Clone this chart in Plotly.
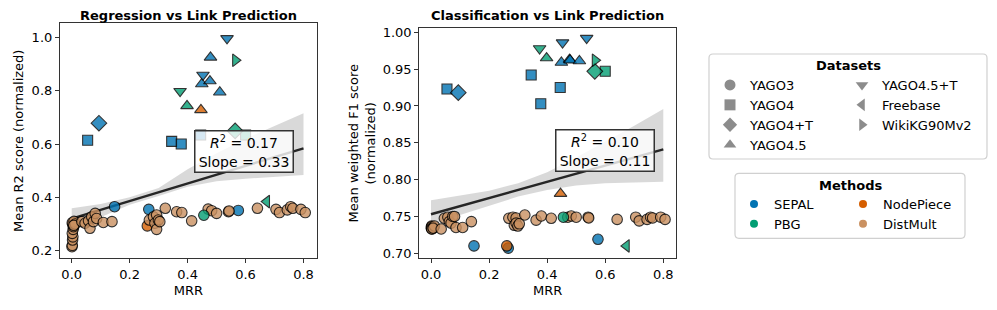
import plotly.graph_objects as go

# ---------------- data ----------------
DATASETS = ["YAGO3", "YAGO4", "YAGO4+T", "YAGO4.5", "YAGO4.5+T", "Freebase", "WikiKG90Mv2"]
METHODS = ["SEPAL", "PBG", "NodePiece", "DistMult"]

sepal_dataset = ["YAGO3", "YAGO3", "YAGO3", "YAGO4", "YAGO4", "YAGO4", "YAGO4", "YAGO4+T",
                 "YAGO4.5", "YAGO4.5", "YAGO4.5", "YAGO4.5", "YAGO4.5+T", "YAGO4.5+T"]
sepal_mrr = [0.148, 0.266, 0.575, 0.055, 0.345, 0.378, 0.445, 0.094,
             0.449, 0.477, 0.479, 0.511, 0.536, 0.453]
sepal_r2 = [0.365, 0.355, 0.351, 0.614, 0.610, 0.600, 0.634, 0.678,
            0.825, 0.836, 0.925, 0.794, 0.996, 0.859]
sepal_f1 = [0.710, 0.707, 0.719, 0.923, 0.942, 0.903, 0.925, 0.918,
            0.959, 0.963, 0.962, 0.961, 0.992, 0.986]

pbg_dataset = ["YAGO3", "YAGO4", "YAGO4+T", "YAGO4.5", "YAGO4.5+T", "Freebase", "WikiKG90Mv2"]
pbg_mrr = [0.456, 0.600, 0.564, 0.398, 0.374, 0.673, 0.565]
pbg_r2 = [0.333, 0.634, 0.649, 0.743, 0.798, 0.384, 0.914]
pbg_f1 = [0.749, 0.947, 0.947, 0.965, 0.978, 0.710, 0.962]

nodepiece_dataset = ["YAGO3", "YAGO4.5"]
nodepiece_mrr = [0.261, 0.446]
nodepiece_r2 = [0.293, 0.728]
nodepiece_f1 = [0.710, 0.781]

distmult_mrr = [0.001, 0.002, 0.003, 0.004, 0.002, 0.005, 0.006, 0.003, 0.002, 0.008, 0.012, 0.007,
                0.035, 0.046, 0.058, 0.063, 0.069, 0.075, 0.081, 0.086, 0.109, 0.139,
                0.268, 0.282, 0.287, 0.293, 0.293, 0.299, 0.304, 0.323, 0.362, 0.380, 0.414,
                0.471, 0.483, 0.500, 0.541, 0.543, 0.641, 0.705, 0.717, 0.744, 0.756, 0.763,
                0.791, 0.806]
distmult_r2 = [0.215, 0.220, 0.240, 0.252, 0.265, 0.280, 0.290, 0.300, 0.305, 0.310, 0.300, 0.295,
               0.309, 0.303, 0.312, 0.284, 0.327, 0.309, 0.340, 0.321, 0.306, 0.309,
               0.315, 0.327, 0.303, 0.334, 0.280, 0.315, 0.309, 0.359, 0.346, 0.343, 0.312,
               0.356, 0.350, 0.340, 0.346, 0.349, 0.359, 0.355, 0.343, 0.353, 0.365, 0.359,
               0.355, 0.343]
distmult_f1 = [0.735, 0.734, 0.736, 0.733, 0.737, 0.735, 0.734, 0.736, 0.733, 0.735, 0.737, 0.734,
               0.733, 0.7475, 0.749, 0.743, 0.741, 0.750, 0.750, 0.735, 0.735, 0.743,
               0.7475, 0.749, 0.738, 0.748, 0.741, 0.737, 0.740, 0.752, 0.745, 0.7506, 0.7475,
               0.749, 0.7506, 0.749, 0.749, 0.748, 0.746, 0.749, 0.744, 0.746, 0.749, 0.748,
               0.749, 0.746]
distmult_dataset = ["YAGO3"] * len(distmult_mrr)

# regression summaries
reg_intercept = 0.320
reg_slope = 0.33
reg_r2 = 0.17
cls_intercept = 0.753
cls_slope = 0.11
cls_r2 = 0.10
band_x = [0.0, 0.1, 0.2, 0.3, 0.4, 0.5, 0.6, 0.7, 0.8]
reg_band_upper = [0.359, 0.375, 0.400, 0.435, 0.505, 0.565, 0.620, 0.668, 0.715]
reg_band_lower = [0.285, 0.325, 0.372, 0.405, 0.440, 0.460, 0.470, 0.478, 0.484]
cls_band_upper = [0.772, 0.778, 0.785, 0.795, 0.810, 0.830, 0.851, 0.873, 0.896]
cls_band_lower = [0.738, 0.752, 0.765, 0.777, 0.786, 0.792, 0.795, 0.796, 0.797]

x_ticks = [0.0, 0.2, 0.4, 0.6, 0.8]
r2_ticks = [0.2, 0.4, 0.6, 0.8, 1.0]
f1_ticks = [0.70, 0.75, 0.80, 0.85, 0.90, 0.95, 1.00]

# ---------------- style ----------------
COLORS = {"SEPAL": "#0173b2", "PBG": "#029e73", "NodePiece": "#d55e00", "DistMult": "#ca9161"}
SYMBOLS = {"YAGO3": "circle", "YAGO4": "square", "YAGO4+T": "diamond", "YAGO4.5": "triangle-up",
           "YAGO4.5+T": "triangle-down", "Freebase": "triangle-left", "WikiKG90Mv2": "triangle-right"}
SIZES = {"YAGO3": 10.5, "YAGO4": 10, "YAGO4+T": 12, "YAGO4.5": 11, "YAGO4.5+T": 11,
         "Freebase": 11, "WikiKG90Mv2": 11}
FONT = "DejaVu Sans"
W, H = 997, 310
OFF = 8  # page body margin of the html page

method_data = {
    "SEPAL": (sepal_dataset, sepal_mrr, sepal_r2, sepal_f1),
    "NodePiece": (nodepiece_dataset, nodepiece_mrr, nodepiece_r2, nodepiece_f1),
    "DistMult": (distmult_dataset, distmult_mrr, distmult_r2, distmult_f1),
    "PBG": (pbg_dataset, pbg_mrr, pbg_r2, pbg_f1),
}

fig = go.Figure()


def add_fit(xa, ya, intercept, slope, upper, lower):
    fig.add_trace(go.Scatter(x=band_x + band_x[::-1], y=upper + lower[::-1], fill="toself",
                             fillcolor="rgba(0,0,0,0.15)", line=dict(width=0), mode="lines",
                             hoverinfo="skip", showlegend=False, xaxis=xa, yaxis=ya))
    fx = [band_x[0], band_x[-1]]
    fy = [intercept + slope * v for v in fx]
    fig.add_trace(go.Scatter(x=fx, y=fy, mode="lines", line=dict(color="#262626", width=2.4),
                             showlegend=False, xaxis=xa, yaxis=ya))


add_fit("x", "y", reg_intercept, reg_slope, reg_band_upper, reg_band_lower)
add_fit("x2", "y2", cls_intercept, cls_slope, cls_band_upper, cls_band_lower)

for m, (ds, mrr, r2, f1) in method_data.items():
    for d in DATASETS:
        idx = [i for i, v in enumerate(ds) if v == d]
        if not idx:
            continue
        xs = [mrr[i] for i in idx]
        mk = dict(symbol=SYMBOLS[d], size=SIZES[d], color=COLORS[m], opacity=0.8,
                  line=dict(color="#000000", width=1.1))
        fig.add_trace(go.Scatter(x=xs, y=[r2[i] for i in idx], mode="markers", marker=mk,
                                 showlegend=False, xaxis="x", yaxis="y", name=f"{m} {d}"))
        fig.add_trace(go.Scatter(x=xs, y=[f1[i] for i in idx], mode="markers", marker=mk,
                                 showlegend=False, xaxis="x2", yaxis="y2", name=f"{m} {d}"))

# legend entries
ds_col1 = DATASETS[:4]
for d in DATASETS:
    fig.add_trace(go.Scatter(x=[None], y=[None], mode="markers", name=d,
                             marker=dict(symbol=SYMBOLS[d], size=11, color="#8c8c8c", line=dict(width=0)),
                             legend="legend" if d in ds_col1 else "legend2", xaxis="x", yaxis="y"))
for i, m in enumerate(METHODS):
    fig.add_trace(go.Scatter(x=[None], y=[None], mode="markers", name=m,
                             marker=dict(symbol="circle", size=8, color=COLORS[m], line=dict(width=0)),
                             legend="legend3" if i < 2 else "legend4", xaxis="x", yaxis="y"))

leg_common = dict(bgcolor="rgba(0,0,0,0)", borderwidth=0, font=dict(family=FONT, size=13, color="#000"),
                  xanchor="left", yanchor="top", orientation="v", tracegroupgap=0, itemwidth=30)


def px(x):
    return (x - OFF) / W


def py(y):
    return 1 - (y - OFF) / H


axis_common = dict(showgrid=False, zeroline=False, showline=True, mirror=True, linecolor="#333",
                   linewidth=1.2, ticks="outside", ticklen=4, tickwidth=1.1, tickcolor="#333",
                   automargin=False, tickfont=dict(family=FONT, size=13, color="#000"))

fig.update_layout(
    width=W, height=H, margin=dict(l=0, r=0, t=0, b=0, autoexpand=False),
    paper_bgcolor="white", plot_bgcolor="white",
    font=dict(family=FONT, size=13, color="#000"),
    xaxis=dict(domain=[px(60), px(316.7)], range=[-0.0404, 0.8455], tickvals=x_ticks, tickformat=".1f",
               title=dict(text="MRR", standoff=4, font=dict(size=13)), anchor="y", **axis_common),
    yaxis=dict(domain=[py(258.3), py(23.3)], range=[0.1715, 1.0526], tickvals=r2_ticks, tickformat=".1f",
               title=dict(text="Mean R2 score (normalized)", standoff=5, font=dict(size=13)), anchor="x",
               **axis_common),
    xaxis2=dict(domain=[px(419.3), px(676)], range=[-0.0403, 0.8437], tickvals=x_ticks, tickformat=".1f",
                title=dict(text="MRR", standoff=4, font=dict(size=13)), anchor="y2", **axis_common),
    yaxis2=dict(domain=[py(258.3), py(28.3)], range=[0.6932, 1.0054], tickvals=f1_ticks, tickformat=".2f",
                title=dict(text="Mean weighted F1 score<br>(normalized)", standoff=4, font=dict(size=13)),
                anchor="x2", **axis_common),
    legend=dict(x=px(710), y=py(70), **leg_common),
    legend2=dict(x=px(842), y=py(70), **leg_common),
    legend3=dict(x=px(734), y=py(189), **leg_common),
    legend4=dict(x=px(843), y=py(189), **leg_common),
)

# titles
for cx, txt in [((60 + 316.7) / 2, "Regression vs Link Prediction"),
                ((419.3 + 676) / 2, "Classification vs Link Prediction")]:
    fig.add_annotation(x=px(cx), y=py(15.7), xref="paper", yref="paper", text=f"<b>{txt}</b>",
                       showarrow=False, font=dict(family=FONT, size=13, color="#000"),
                       xanchor="center", yanchor="middle")

# stats boxes
fig.add_annotation(x=0.593, y=0.572, xref="x", yref="y",
                   text=f"<i>R</i><sup>2</sup> = {reg_r2:.2f}<br>Slope = {reg_slope:.2f}",
                   showarrow=False, font=dict(family=FONT, size=14, color="#000"), width=93,
                   bgcolor="rgba(255,255,255,0.8)", bordercolor="#333", borderwidth=1.5, borderpad=2,
                   align="center")
fig.add_annotation(x=0.599, y=0.840, xref="x2", yref="y2",
                   text=f"<i>R</i><sup>2</sup> = {cls_r2:.2f}<br>Slope = {cls_slope:.2f}",
                   showarrow=False, font=dict(family=FONT, size=14, color="#000"), width=93,
                   bgcolor="rgba(255,255,255,0.8)", bordercolor="#333", borderwidth=1.5, borderpad=2,
                   align="center")


# legend frames (rounded rectangles) and titles
def rounded(x0, y0, x1, y1, r=4):
    X0, X1 = px(x0), px(x1)
    Y0, Y1 = py(y1), py(y0)
    rx, ry = r / W, r / H
    return (f"M {X0 + rx},{Y0} L {X1 - rx},{Y0} Q {X1},{Y0} {X1},{Y0 + ry} L {X1},{Y1 - ry} "
            f"Q {X1},{Y1} {X1 - rx},{Y1} L {X0 + rx},{Y1} Q {X0},{Y1} {X0},{Y1 - ry} "
            f"L {X0},{Y0 + ry} Q {X0},{Y0} {X0 + rx},{Y0} Z")


for (x0, y0, x1, y1), title, ty in [((709, 54, 987, 159), "Datasets", 65.7),
                                     ((735, 173.3, 965, 238.3), "Methods", 185)]:
    fig.add_shape(type="path", path=rounded(x0, y0, x1, y1), xref="paper", yref="paper",
                  line=dict(color="#d0d0d0", width=1.2), fillcolor="rgba(255,255,255,0.8)", layer="below")
    fig.add_annotation(x=px((x0 + x1) / 2), y=py(ty), xref="paper", yref="paper", text=f"<b>{title}</b>",
                       showarrow=False, font=dict(family=FONT, size=13, color="#000"),
                       xanchor="center", yanchor="middle")

fig.write_html("out.html")
